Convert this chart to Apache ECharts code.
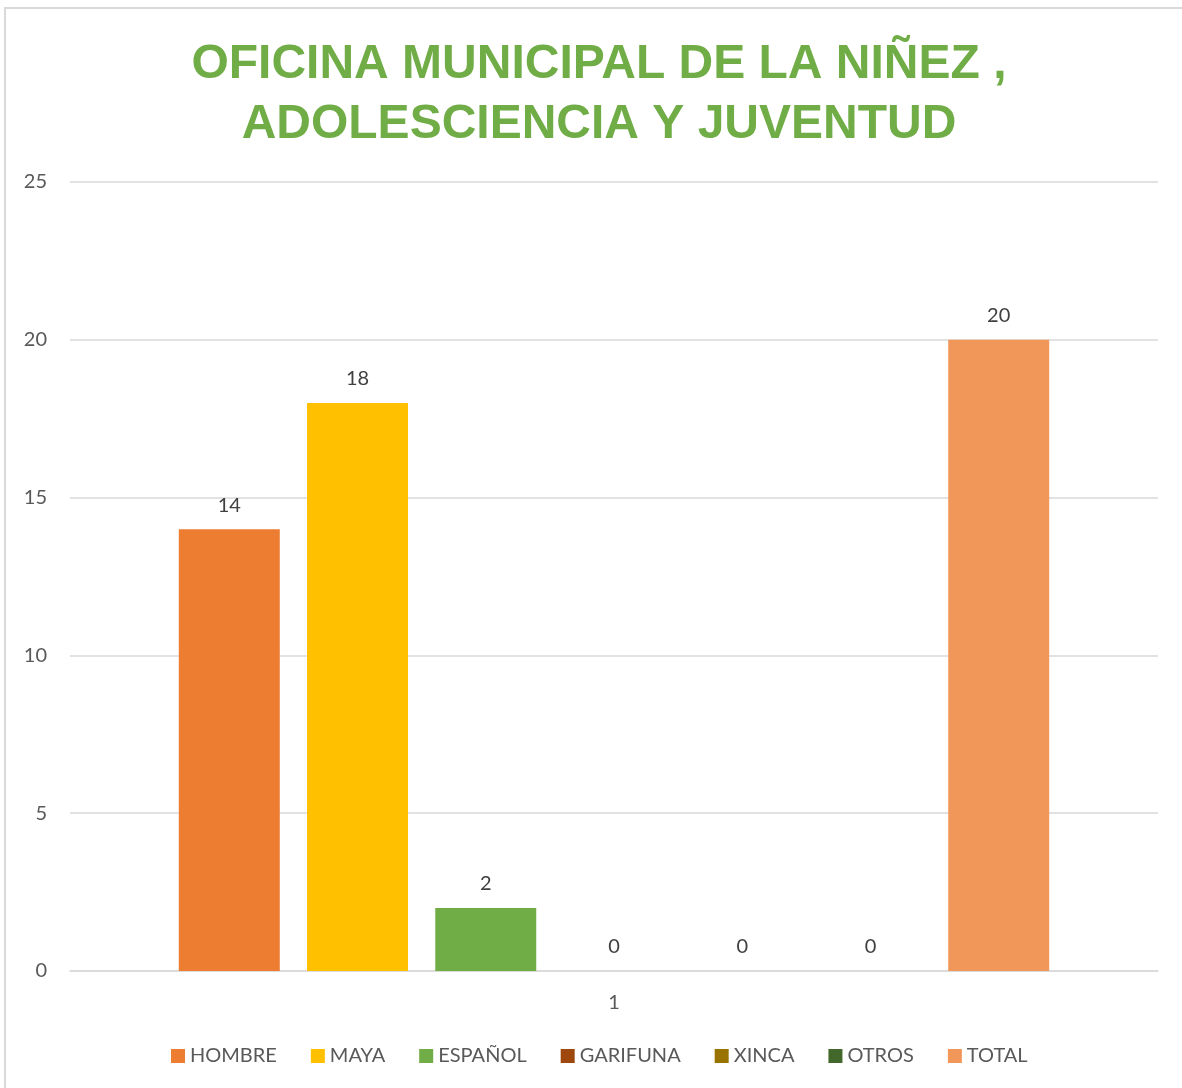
<!DOCTYPE html>
<html>
<head>
<meta charset="utf-8">
<script src="https://cdn.jsdelivr.net/npm/echarts@6/dist/echarts.min.js"></script>
<style>
  html, body { margin: 0; padding: 0; background: #fff; }
  #chart { width: 1182px; height: 1088px; }
</style>
</head>
<body>
<div id="chart"></div>
<script>
// datos del grafico
const categories = ['1']
const seriesNames = ['HOMBRE', 'MAYA', 'ESPAÑOL', 'GARIFUNA', 'XINCA', 'OTROS', 'TOTAL']
const seriesValues = [14, 18, 2, 0, 0, 0, 20]
const seriesColors = ['#ED7D31', '#FFC000', '#70AD47', '#9E480E', '#997300', '#43682B', '#F1975A']
const yTicks = [0, 5, 10, 15, 20, 25]

const chart = echarts.init(document.getElementById('chart'))

const labelFont = 'Lato, "Liberation Sans", sans-serif'

const option = {
  animation: false,
  color: seriesColors,
  title: {
    text: 'OFICINA MUNICIPAL DE LA NIÑEZ ,\nADOLESCIENCIA Y JUVENTUD',
    left: 594,
    top: 30,
    textAlign: 'center',
    textStyle: {
      fontFamily: '"Liberation Sans", Arial, sans-serif',
      fontWeight: 'bold',
      fontSize: 48,
      lineHeight: 60,
      color: '#70AD47'
    }
  },
  // borde del area del grafico
  graphic: [
    {
      type: 'rect',
      shape: { x: 5, y: 8, width: 1200, height: 1100 },
      style: { fill: 'none', stroke: '#d9d9d9', lineWidth: 2 },
      z: -1
    }
  ],
  grid: {
    left: 70,
    right: 24,
    top: 182,
    bottom: 117
  },
  legend: {
    bottom: 17,
    left: 166,
    itemWidth: 14,
    itemHeight: 14,
    itemGap: 34,
    icon: 'rect',
    data: seriesNames,
    textStyle: {
      fontFamily: labelFont,
      fontSize: 20,
      color: '#595959'
    }
  },
  xAxis: {
    type: 'category',
    data: categories,
    axisLine: { lineStyle: { color: '#d9d9d9', width: 1.5 } },
    axisTick: { show: false },
    axisLabel: {
      margin: 22,
      fontFamily: labelFont,
      fontSize: 20,
      color: '#595959'
    }
  },
  yAxis: {
    type: 'value',
    min: yTicks[0],
    max: yTicks[yTicks.length - 1],
    interval: 5,
    axisLine: { show: false },
    axisTick: { show: false },
    splitLine: { lineStyle: { color: '#d9d9d9', width: 1.5 } },
    axisLabel: {
      margin: 23,
      fontFamily: labelFont,
      fontSize: 20,
      color: '#595959'
    }
  },
  series: seriesNames.map((name, i) => ({
    name: name,
    type: 'bar',
    data: [seriesValues[i]],
    barGap: '27%',
    barCategoryGap: '20%',
    itemStyle: { color: seriesColors[i] },
    label: {
      show: true,
      position: 'top',
      distance: 14,
      fontFamily: labelFont,
      fontSize: 20,
      color: '#404040'
    }
  }))
}

chart.setOption(option)
</script>
</body>
</html>
